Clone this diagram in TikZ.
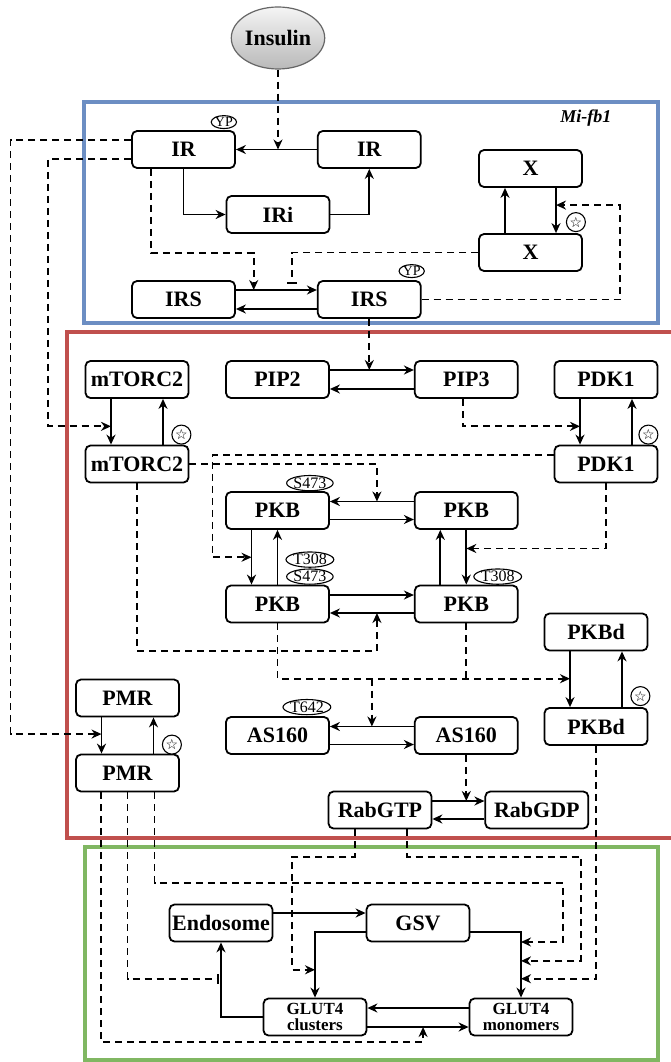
\documentclass[tikz,border=0pt]{standalone}
\usepackage{fontspec}
\setmainfont{Liberation Serif}
\newfontfamily\starfont{DejaVu Sans}
\usepackage{tikz}
\usetikzlibrary{arrows.meta,positioning,calc,shapes.geometric}
\definecolor{fbblue}{RGB}{108,142,195}
\definecolor{fbred}{RGB}{192,80,77}
\definecolor{fbgreen}{RGB}{128,183,98}

\begin{document}
\begin{tikzpicture}[
  x=1pt, y=-1pt,
  node distance=81pt,
  box/.style={draw, line width=1.8pt, rounded corners=5pt, minimum width=103pt, minimum height=37pt, inner sep=1pt, font=\fontsize{22}{24}\selectfont\bfseries},
  small/.style={box, align=center, font=\fontsize{17}{16}\selectfont\bfseries},
  site/.style={draw, ellipse, line width=1.1pt, inner sep=0pt, fill=white, font=\fontsize{16}{16}\selectfont},
  pstar/.style={draw, circle, line width=1.1pt, inner sep=0pt, minimum size=19pt, fill=white, font=\starfont\fontsize{14}{14}\selectfont},
  arr/.style={-{Stealth[length=10pt,width=9pt]}, line width=1.8pt},
  darr/.style={arr, dash pattern=on 7pt off 5pt},
  dline/.style={line width=1.8pt, dash pattern=on 7pt off 5pt},
  dinh/.style={dline, -{Bar[width=10pt]}},
  frame/.style={line width=3.5pt}
]
\useasboundingbox (0,0) rectangle (671,1062);

% modules
\draw[frame, fbblue] (84,102) rectangle (658,323);
\draw[frame, fbred] (67,332) rectangle (680,838);
\draw[frame, fbgreen] (85,847) rectangle (658,1060);
\node[anchor=east, font=\fontsize{18}{18}\selectfont\bfseries\itshape] (fb) at (615,118) {Mi-fb1};

\node[ellipse, draw=gray!80!black, line width=1.2pt, top color=gray!8, bottom color=gray!55, minimum width=86pt, minimum height=62pt, inner sep=0pt, font=\fontsize{22}{24}\selectfont\bfseries] (ins) at (278,38) {Insulin};

\node[box] (irP) at (183.5,149.5) {IR};
\node[box, right=of irP] (ir) {IR};
\node[box] (iri) at (278,214.5) {IRi};
\node[box] (xa) at (530.5,168.5) {X};
\node[box] (xb) at (530.5,252.5) {X};
\node[box] (irs) at (183.5,299.5) {IRS};
\node[box, right=of irs] (irsP) {IRS};

\node[box] (mtorA) at (137,379.5) {mTORC2};
\node[box] (mtorB) at (137,464) {mTORC2};
\node[box] (pip2) at (277.5,379.5) {PIP2};
\node[box, right=84pt of pip2] (pip3) {PIP3};
\node[box] (pdkA) at (606,379.5) {PDK1};
\node[box] (pdkB) at (606,464) {PDK1};
\node[box] (pkbTL) at (277.5,510.5) {PKB};
\node[box, right=84pt of pkbTL] (pkbTR) {PKB};
\node[box] (pkbBL) at (277.5,604) {PKB};
\node[box, right=84pt of pkbBL] (pkbBR) {PKB};
\node[box] (pkbdA) at (596,632) {PKBd};
\node[box] (pkbdB) at (596,726.5) {PKBd};
\node[box] (asL) at (277.5,735.5) {AS160};
\node[box, right=84pt of asL] (asR) {AS160};
\node[box] (pmrA) at (127.5,698) {PMR};
\node[box] (pmrB) at (127.5,773) {PMR};
\node[box] (gtp) at (380,810) {RabGTP};
\node[box, right=52pt of gtp] (gdp) {RabGDP};

\node[box] (endo) at (221,923) {Endosome};
\node[box] (gsv) at (418,923) {GSV};
\node[small] (clu) at (315,1017) {GLUT4\\clusters};
\node[small] (mono) at (521,1017) {GLUT4\\monomers};

% solid reactions
\draw[arr] (ir.west) -- (irP.east);
\draw[arr] (irP.south) |- (iri.west);
\draw[arr] (iri.east) -| (ir.south);
\draw[arr] ([xshift=-25.5pt]xb.north) -- ([xshift=-25.5pt]xa.south);
\draw[arr] ([xshift=25.5pt]xa.south) -- coordinate[pos=0.38] (xdn) ([xshift=25.5pt]xb.north);
\draw[arr] ([yshift=9.5pt]irs.east) -- coordinate[pos=0.22] (irsA) coordinate[pos=0.69] (irsI) ([yshift=9.5pt]irsP.west);
\draw[arr] ([yshift=-9.5pt]irsP.west) -- ([yshift=-9.5pt]irs.east);

\draw[arr] ([yshift=9.5pt]pip2.east) -- coordinate (pipA) ([yshift=9.5pt]pip3.west);
\draw[arr] ([yshift=-9.5pt]pip3.west) -- ([yshift=-9.5pt]pip2.east);
\draw[arr] ([xshift=-26pt]mtorA.south) -- coordinate[pos=0.6] (mtordn) ([xshift=-26pt]mtorB.north);
\draw[arr] ([xshift=26pt]mtorB.north) -- ([xshift=26pt]mtorA.south);
\draw[arr] ([xshift=-26pt]pdkA.south) -- coordinate[pos=0.6] (pdkdn) ([xshift=-26pt]pdkB.north);
\draw[arr] ([xshift=26pt]pdkB.north) -- ([xshift=26pt]pdkA.south);

\draw[arr] ([yshift=9pt]pkbTR.west) -- coordinate[pos=0.44] (pkbT) ([yshift=9pt]pkbTL.east);
\draw[arr] ([yshift=-9pt]pkbTL.east) -- ([yshift=-9pt]pkbTR.west);
\draw[arr] ([xshift=-26pt]pkbTL.south) -- coordinate (pkbLdn) ([xshift=-26pt]pkbBL.north);
\draw[arr] (pkbBL.north) -- (pkbTL.south);
\draw[arr] ([xshift=-26pt]pkbBR.north) -- ([xshift=-26pt]pkbTR.south);
\draw[arr] (pkbTR.south) -- coordinate[pos=0.34] (pkbRdn) (pkbBR.north);
\draw[arr] ([yshift=9pt]pkbBL.east) -- ([yshift=9pt]pkbBR.west);
\draw[arr] ([yshift=-9pt]pkbBR.west) -- coordinate[pos=0.44] (pkbB) ([yshift=-9pt]pkbBL.east);

\draw[arr] ([xshift=-26pt]pkbdA.south) -- coordinate[pos=0.49] (pkbddn) ([xshift=-26pt]pkbdB.north);
\draw[arr] ([xshift=26pt]pkbdB.north) -- ([xshift=26pt]pkbdA.south);
\draw[arr] ([yshift=9pt]asR.west) -- coordinate (asT) ([yshift=9pt]asL.east);
\draw[arr] ([yshift=-9pt]asL.east) -- ([yshift=-9pt]asR.west);
\draw[arr] ([yshift=9pt]gtp.east) -- coordinate[pos=0.65] (gtpT) ([yshift=9pt]gdp.west);
\draw[arr] ([yshift=-9pt]gdp.west) -- ([yshift=-9pt]gtp.east);
\draw[arr] ([xshift=-26pt]pmrA.south) -- coordinate[pos=0.46] (pmrdn) ([xshift=-26pt]pmrB.north);
\draw[arr] ([xshift=26pt]pmrB.north) -- ([xshift=26pt]pmrA.south);

\draw[arr] ([yshift=10pt]endo.east) -- ([yshift=10pt]gsv.west);
\draw[arr] ([yshift=-9pt]gsv.west) -| coordinate[pos=0.788] (gcV) (clu.north);
\draw[arr] ([yshift=-9pt]gsv.east) -| coordinate[pos=0.576] (gm1) coordinate[pos=0.72] (gm2) coordinate[pos=0.856] (gm3) (mono.north);
\draw[arr] ([yshift=9pt]mono.west) -- ([yshift=9pt]clu.east);
\draw[arr] ([yshift=-10pt]clu.east) -- coordinate[pos=0.55] (cmT) ([yshift=-10pt]mono.west);
\draw[arr] (clu.west) -| coordinate[pos=0.753] (endoI) (endo.south);

% dashed influences
\draw[darr] (ins.south) -- (ins.south |- ir.west);
\draw[darr] ([xshift=-32.5pt]irP.south) |- ($(irsA)+(0,-37)$) -- (irsA);
\draw[dinh] (xb.west) -| ($(irsI)+(0,-6)$);
\draw[darr] (irsP.east) -| ($(xdn)+(64,0)$) -- (xdn);
\draw[darr] ([yshift=9.5pt]irP.west) -| ($(pmrdn)+(-91,0)$) -- (pmrdn);
\draw[darr] ([yshift=-9.5pt]irP.west) -| ($(mtordn)+(-63,0)$) -- (mtordn);
\draw[darr] (irsP.south) -- (irsP.south |- pipA);

\draw[darr] ([xshift=-3.5pt]pip3.south) |- (pdkdn);
\draw[darr] (mtorB.east) -| (pkbT);
\draw[darr] ([yshift=9pt]pdkB.west) -| ($(pkbLdn)+(-39,0)$) -- (pkbLdn);
\draw[darr] (pdkB.south) |- (pkbRdn);
\draw[darr] (mtorB.south) |- ($(pkbB)+(0,38)$) -- (pkbB);
\draw[darr] (pkbBL.south) |- (pkbddn);
\draw[dline] (pkbBR.south) -- (pkbBR.south |- pkbddn);
\draw[darr] (asT |- pkbddn) -- (asT);
\draw[darr] (asR.south) -- (asR.south |- gtpT);

\draw[darr] ([xshift=27pt]pmrB.south) |- ($(gm1)+(42,-59)$) |- (gm1);
\draw[dinh, shorten >=2pt] (pmrB.south) |- (endoI);
\draw[darr] ([xshift=-26.5pt]pmrB.south) |- ($(cmT)+(0,15)$) -- (cmT);
\draw[darr] ([xshift=-25pt]gtp.south) |- ($(gcV)+(-23,-113)$) |- (gcV);
\draw[darr] ([xshift=27pt]gtp.south) |- ($(gm2)+(60,-104)$) |- (gm2);
\draw[darr] (pkbdB.south) |- (gm3);

% sites
\node[site, font=\fontsize{14}{14}\selectfont] (ypIR) at ([shift={(-12,-8)}]irP.north east) {YP};
\node[site, font=\fontsize{14}{14}\selectfont] (ypIRS) at ([shift={(-10,-9)}]irsP.north east) {YP};
\node[site] (sA) at ([shift={(-20,-8)}]pkbTL.north east) {S473};
\node[site] (tB) at ([shift={(-20,-25)}]pkbBL.north east) {T308};
\node[site] (sB) at ([shift={(-20,-8)}]pkbBL.north east) {S473};
\node[site] (tC) at ([shift={(-21,-8)}]pkbBR.north east) {T308};
\node[site] (tAS) at ([shift={(-23,-9)}]asL.north east) {T642};
\node[pstar] (stX) at ([shift={(-7,-11)}]xb.north east) {☆};
\node[pstar] (stM) at ([shift={(-8,-10)}]mtorB.north east) {☆};
\node[pstar] (stP) at ([shift={(-10,-10)}]pdkB.north east) {☆};
\node[pstar] (stD) at ([shift={(-8,-11)}]pkbdB.north east) {☆};
\node[pstar] (stR) at ([shift={(-8,-9)}]pmrB.north east) {☆};
\end{tikzpicture}
\end{document}
